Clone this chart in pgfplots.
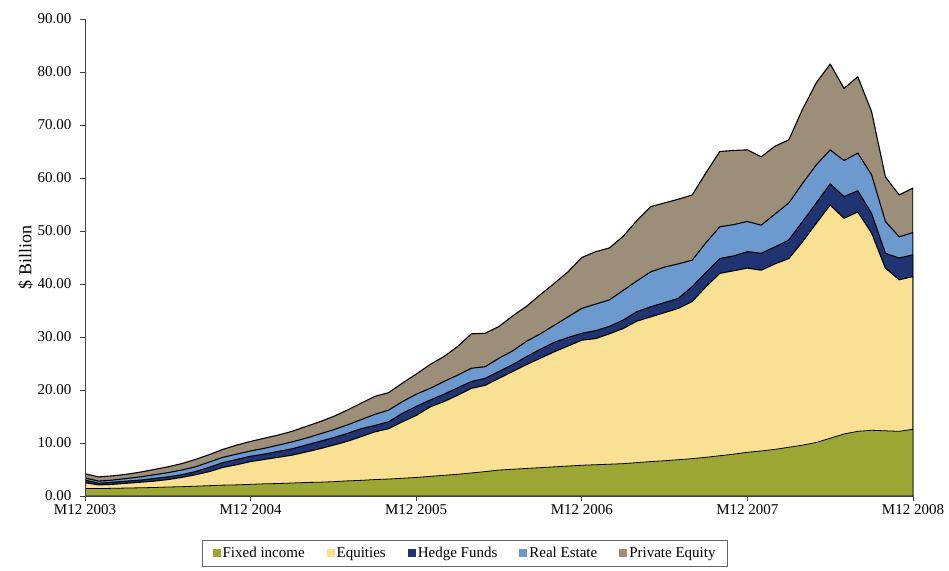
\documentclass[border=0pt]{standalone}
\usepackage{pgfplots}
\usepackage{pgfplotstable}
\pgfplotsset{compat=1.18}
\usepackage{fontspec}
\setmainfont{Liberation Serif}
\definecolor{fi}{RGB}{155,166,52}
\definecolor{eq}{RGB}{250,224,146}
\definecolor{hf}{RGB}{31,52,112}
\definecolor{re}{RGB}{108,154,206}
\definecolor{pe}{RGB}{156,142,120}
% cumulative tops of the stacked areas
\pgfplotstableread{
m fi eq hf re pe
0 1.4 2.5 3.0 3.4 4.2
1 1.4 2.1 2.4 2.8 3.6
2 1.45 2.2 2.6 3.0 3.8
3 1.5 2.4 2.8 3.3 4.1
4 1.55 2.6 3.0 3.6 4.5
5 1.6 2.8 3.3 4.0 5.0
6 1.7 3.1 3.6 4.4 5.5
7 1.75 3.5 4.0 4.9 6.1
8 1.85 4.0 4.6 5.5 6.9
9 1.95 4.6 5.4 6.4 7.8
10 2.05 5.4 6.3 7.3 8.8
11 2.1 5.9 6.9 7.9 9.6
12 2.2 6.5 7.5 8.5 10.3
13 2.3 6.9 7.9 9.0 10.9
14 2.35 7.3 8.4 9.6 11.5
15 2.45 7.7 8.9 10.2 12.2
16 2.55 8.3 9.6 10.9 13.1
17 2.6 8.9 10.3 11.7 14.0
18 2.7 9.6 11.0 12.5 15.0
19 2.85 10.3 11.8 13.4 16.2
20 2.95 11.2 12.7 14.4 17.5
21 3.1 12.1 13.3 15.4 18.8
22 3.2 12.7 14.0 16.2 19.5
23 3.35 14.0 15.6 17.8 21.3
24 3.5 15.2 16.9 19.2 23.0
25 3.7 16.8 18.1 20.3 24.8
26 3.9 17.8 19.2 21.6 26.3
27 4.1 19.0 20.4 22.8 28.2
28 4.35 20.3 21.6 24.1 30.6
29 4.6 20.9 22.2 24.4 30.7
30 4.9 22.2 23.5 26.0 32.0
31 5.05 23.5 24.8 27.4 34.0
32 5.2 24.8 26.3 29.2 35.8
33 5.35 26.0 27.7 30.6 38.0
34 5.5 27.2 29.0 32.2 40.1
35 5.65 28.3 29.9 33.8 42.3
36 5.8 29.4 30.7 35.4 45.0
37 5.9 29.7 31.2 36.2 46.1
38 6.0 30.6 32.0 37.0 46.8
39 6.1 31.6 33.2 38.8 49.0
40 6.3 33.0 34.8 40.6 52.0
41 6.5 33.8 35.7 42.3 54.6
42 6.65 34.6 36.5 43.2 55.3
43 6.85 35.4 37.3 43.8 56.0
44 7.05 36.7 39.5 44.5 56.8
45 7.3 39.5 42.2 47.8 61.0
46 7.6 42.0 44.8 50.8 65.0
47 7.9 42.5 45.3 51.2 65.2
48 8.25 43.0 46.1 51.8 65.3
49 8.5 42.6 45.8 51.1 64.0
50 8.8 43.8 47.0 53.2 66.0
51 9.2 44.8 48.3 55.3 67.2
52 9.6 48.0 51.8 59.0 73.0
53 10.1 51.5 55.3 62.5 78.0
54 10.9 54.9 58.9 65.3 81.5
55 11.7 52.4 56.5 63.3 76.9
56 12.2 53.6 57.6 64.7 79.1
57 12.4 49.6 53.3 60.6 72.5
58 12.3 43.0 45.8 51.8 60.2
59 12.2 40.8 44.9 48.9 56.8
60 12.6 41.4 45.5 49.7 58.1
}\data
\begin{document}
\begin{tikzpicture}
\useasboundingbox (0,0) rectangle (949pt,570pt);
\begin{axis}[
  at={(85pt,74pt)}, anchor=south west,
  scale only axis, width=828pt, height=477pt,
  xmin=0, xmax=60, ymin=0, ymax=90,
  axis lines=left, axis line style={-, black!75, line width=0.9pt},
  axis on top,
  xtick={0,12,24,36,48,60},
  xticklabels={M12 2003,M12 2004,M12 2005,M12 2006,M12 2007,M12 2008},
  ytick={0,10,...,90},
  yticklabel style={xshift=-5pt, /pgf/number format/.cd, fixed, fixed zerofill, precision=2, assume math mode=true},
  tick align=outside, major tick length=5pt,
  tick style={black!75, line width=0.9pt},
  font=\fontsize{15}{17}\selectfont,
  ylabel={\$ Billion},
  ylabel style={font=\fontsize{18}{20}\selectfont, yshift=-2pt},
  every axis plot/.append style={draw=black, line width=1.1pt, line join=round},
  area legend,
  reverse legend,
  legend columns=-1,
  legend image code/.code={\fill[#1, draw=none] (0pt,-4pt) rectangle (8pt,4pt);},
  legend style={at={(0.459,-0.092)}, anchor=north, draw=black!60, line width=0.6pt,
    font=\fontsize{15}{17}\selectfont, inner xsep=10pt, inner ysep=5pt,
    /tikz/every even column/.append style={column sep=20pt}},
]
\addplot[fill=pe] table[x=m,y=pe] {\data} \closedcycle;
\addlegendentry{Private Equity}
\addplot[fill=re] table[x=m,y=re] {\data} \closedcycle;
\addlegendentry{Real Estate}
\addplot[fill=hf] table[x=m,y=hf] {\data} \closedcycle;
\addlegendentry{Hedge Funds}
\addplot[fill=eq] table[x=m,y=eq] {\data} \closedcycle;
\addlegendentry{Equities}
\addplot[fill=fi, line width=0.8pt] table[x=m,y=fi] {\data} \closedcycle;
\addlegendentry{Fixed income}
\end{axis}
\end{tikzpicture}
\end{document}
